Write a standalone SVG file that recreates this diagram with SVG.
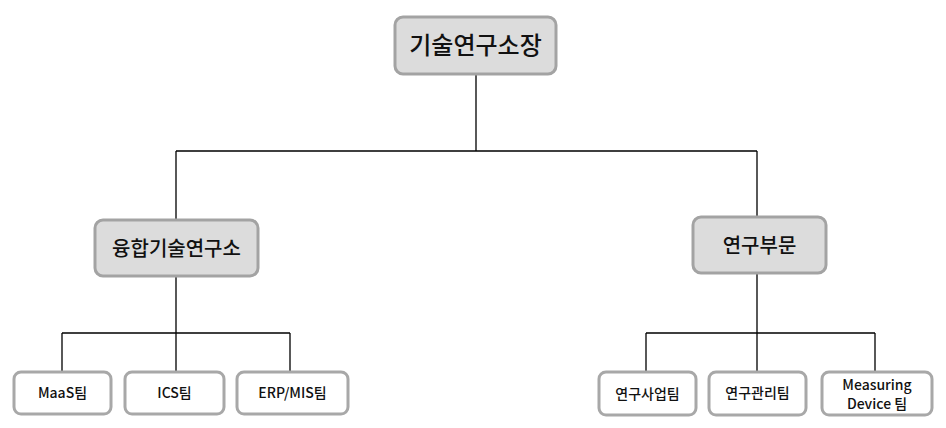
<svg xmlns="http://www.w3.org/2000/svg" width="946" height="428" viewBox="0 0 946 428">
<style>
.g{fill:#dcdcdc;stroke:#a3a3a3;stroke-width:3}
.w{fill:#fff;stroke:#a8a8a8;stroke-width:3}
text{font-family:"Noto Sans CJK KR","Noto Sans",sans-serif;text-anchor:middle;fill:#111;font-weight:500}
.b{font-size:24px}.m{font-size:20px}.s{font-size:14px}
</style>
<rect width="946" height="428" fill="#fff"/>
<g id="connectors" fill="none" stroke="#000" stroke-width="1.3">
<path d="M476 74V151M176 151H757M176 151V220M757 151V217"/>
<path d="M176 276V333M62 333H290M62 333V372M176 333V372M290 333V372"/>
<path d="M757 273V333M646 333H875M646 333V372M757 333V372M875 333V372"/>
</g>
<g id="n1"><rect class="g" x="395" y="17" width="161" height="57" rx="8"/><text class="b" x="475.5" y="54">기술연구소장</text></g>
<g id="n2"><rect class="g" x="95" y="220" width="163" height="56" rx="8"/><text class="m" x="176.5" y="256">융합기술연구소</text></g>
<g id="n3"><rect class="g" x="693" y="217" width="133" height="56" rx="8"/><text class="m" x="759.5" y="253">연구부문</text></g>
<g id="n4"><rect class="w" x="14" y="372" width="97" height="42" rx="7"/><text class="s" x="62.5" y="398">MaaS팀</text></g>
<g id="n5"><rect class="w" x="125" y="372" width="99" height="42" rx="7"/><text class="s" x="174.5" y="398">ICS팀</text></g>
<g id="n6"><rect class="w" x="237" y="372" width="111" height="42" rx="7"/><text class="s" x="292.5" y="398">ERP/MIS팀</text></g>
<g id="n7"><rect class="w" x="599" y="372" width="97" height="43" rx="7"/><text class="s" x="647.5" y="399">연구사업팀</text></g>
<g id="n8"><rect class="w" x="709" y="372" width="97" height="43" rx="7"/><text class="s" x="757.5" y="398">연구관리팀</text></g>
<g id="n9"><rect class="w" x="822" y="372" width="110" height="43" rx="7"/><text class="s" x="877" y="390">Measuring</text><text class="s" x="877" y="409">Device 팀</text></g>
</svg>
